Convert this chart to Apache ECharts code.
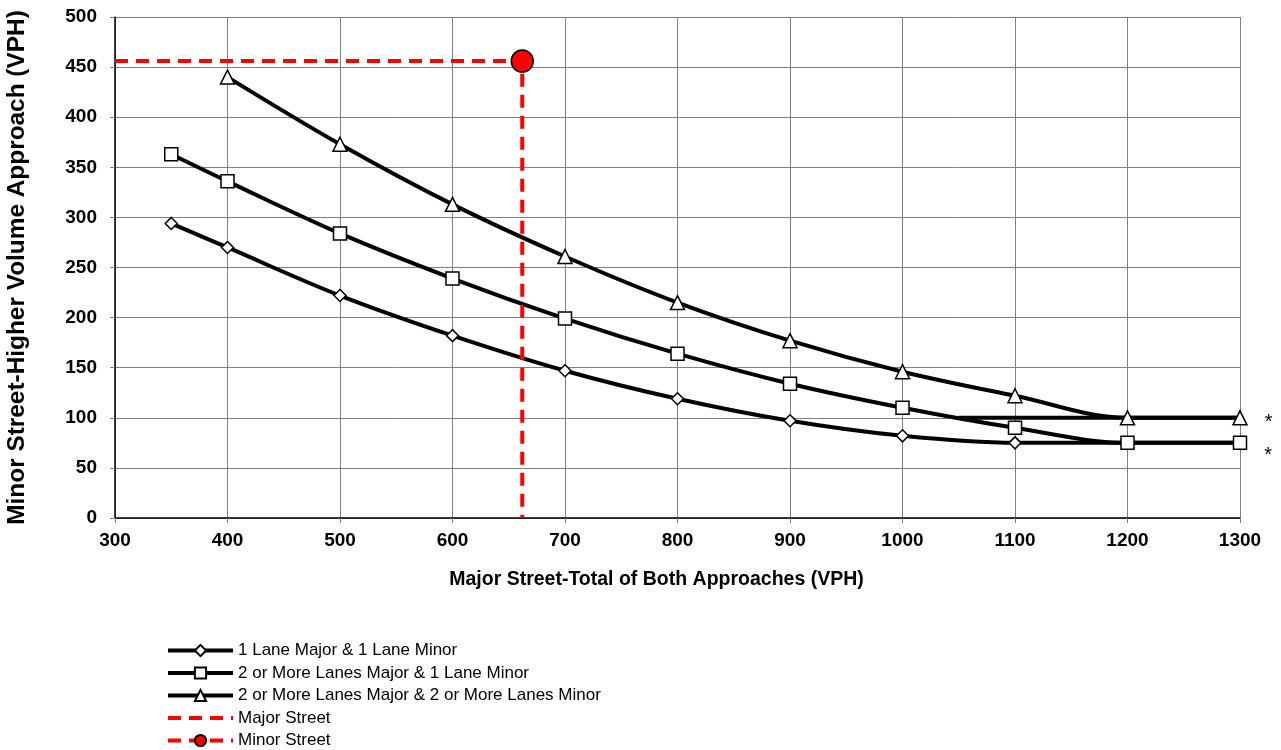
<!DOCTYPE html>
<html>
<head>
<meta charset="utf-8">
<script src="https://cdn.jsdelivr.net/npm/echarts@6/dist/echarts.min.js"></script>
<style>
  html, body { margin: 0; padding: 0; background: #fff; }
  #chart { width: 1281px; height: 750px; }
</style>
</head>
<body>
<div id="chart"></div>
<script>
// volumes (VPH)
const majorOneOne = [350, 400, 500, 600, 700, 800, 900, 1000, 1100, 1200, 1300]
const minorOneOne = [294, 270, 222, 182, 147, 119, 97, 82, 75, 75, 75]
const majorTwoOne = [350, 400, 500, 600, 700, 800, 900, 1000, 1100, 1200, 1300]
const minorTwoOne = [363, 336, 284, 239, 199, 164, 134, 110, 90, 75, 75]
const majorTwoTwo = [400, 500, 600, 700, 800, 900, 1000, 1100, 1200, 1300]
const minorTwoTwo = [440, 373, 313, 261, 215, 177, 146, 122, 100, 100]
// stray flat segment at 100 VPH on the right
const flatX = [1050, 1300]
const flatY = [100, 100]
// project volumes
const projMajor = 662
const projMinor = 456

const legendNames = [
  '1 Lane Major & 1 Lane Minor',
  '2 or More Lanes Major & 1 Lane Minor',
  '2 or More Lanes Major & 2 or More Lanes Minor',
  'Major Street',
  'Minor Street'
]

const font = 'Liberation Sans, Arial, sans-serif'

function pairs(xs, ys) {
  return xs.map((x, i) => [x, ys[i]])
}

function starLast(points, dy) {
  return points.map((p, i) => i === points.length - 1
    ? { value: p, label: { show: true, formatter: '*', position: 'right', distance: 17, offset: [0, dy], color: '#000', fontSize: 20, fontFamily: font } }
    : p)
}

const curveStyle = { color: '#000', width: 4 }
const markerStyle = { color: '#fff', borderColor: '#000', borderWidth: 1.5 }
const redDash = { color: '#ff0000', width: 4, type: [13, 8] }

const chart = echarts.init(document.getElementById('chart'))
chart.setOption({
  animation: false,
  backgroundColor: '#fff',
  textStyle: { fontFamily: font },
  grid: { left: 115, right: 41, top: 17, bottom: 232, outerBoundsMode: 'none' },
  xAxis: {
    type: 'value',
    min: 300,
    max: 1300,
    interval: 100,
    name: 'Major Street-Total of Both Approaches (VPH)',
    nameLocation: 'middle',
    nameGap: 52,
    nameTextStyle: { fontSize: 19.5, fontWeight: 'bold', color: '#000', padding: [0, 42, 0, 0] },
    axisLine: { show: true, lineStyle: { color: '#000', width: 1.5 } },
    axisTick: { show: true, length: 5, lineStyle: { color: '#808080' } },
    axisLabel: { fontSize: 19, fontWeight: 'bold', color: '#000', margin: 13, formatter: (v) => String(v) },
    splitLine: { show: true, lineStyle: { color: '#808080', width: 1 } }
  },
  yAxis: {
    type: 'value',
    min: 0,
    max: 500,
    interval: 50,
    name: 'Minor Street-Higher Volume Approach (VPH)',
    nameLocation: 'middle',
    nameGap: 86,
    nameTextStyle: { fontSize: 24.4, fontWeight: 'bold', color: '#000' },
    axisLine: { show: true, lineStyle: { color: '#000', width: 1.5 } },
    axisTick: { show: true, length: 5, lineStyle: { color: '#808080' } },
    axisLabel: { fontSize: 19, fontWeight: 'bold', color: '#000', margin: 18 },
    splitLine: { show: true, lineStyle: { color: '#808080', width: 1 } }
  },
  legend: {
    data: legendNames,
    orient: 'vertical',
    left: 166,
    top: 642,
    padding: 0,
    itemWidth: 65,
    itemHeight: 14,
    itemGap: 5.5,
    lineStyle: { width: 4 },
    textStyle: { fontSize: 17, lineHeight: 17, color: '#000', fontFamily: font }
  },
  series: [
    {
      name: legendNames[0],
      type: 'line',
      smooth: 0.35,
      data: pairs(majorOneOne, minorOneOne),
      symbol: 'diamond',
      symbolSize: 12,
      lineStyle: curveStyle,
      itemStyle: markerStyle,
      z: 3
    },
    {
      name: legendNames[1],
      type: 'line',
      smooth: 0.35,
      data: starLast(pairs(majorTwoOne, minorTwoOne), 13),
      symbol: 'rect',
      symbolSize: 13,
      lineStyle: curveStyle,
      itemStyle: markerStyle,
      z: 3
    },
    {
      name: legendNames[2],
      type: 'line',
      smooth: 0.35,
      data: starLast(pairs(majorTwoTwo, minorTwoTwo), 5),
      symbol: 'triangle',
      symbolSize: 14,
      lineStyle: curveStyle,
      itemStyle: markerStyle,
      z: 3
    },
    {
      name: 'flat',
      type: 'line',
      data: pairs(flatX, flatY),
      showSymbol: false,
      symbol: 'none',
      lineStyle: curveStyle,
      z: 2
    },
    {
      name: legendNames[3],
      type: 'line',
      data: [[300, projMinor], [projMajor, projMinor], [projMajor, 0]],
      symbol: 'circle',
      showSymbol: false,
      lineStyle: redDash,
      itemStyle: { color: '#ff0000', opacity: 0 },
      z: 4
    },
    {
      name: legendNames[4],
      type: 'line',
      data: [[projMajor, projMinor]],
      symbol: 'circle',
      symbolSize: 22,
      lineStyle: redDash,
      itemStyle: { color: '#ff0000', borderColor: '#000', borderWidth: 1.5 },
      z: 5
    }
  ]
})
</script>
</body>
</html>
